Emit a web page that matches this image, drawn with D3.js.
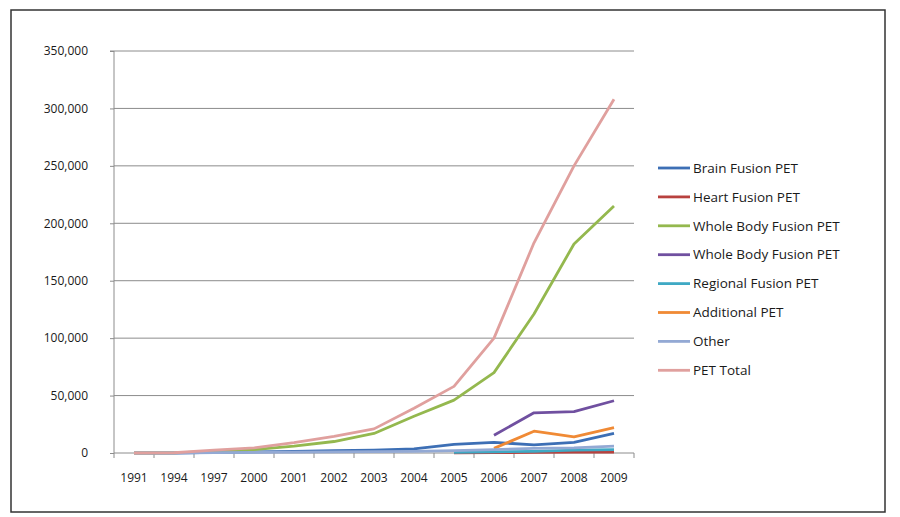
<!DOCTYPE html>
<html>
<head>
<meta charset="utf-8">
<script src="https://cdn.jsdelivr.net/npm/d3@7"></script>
<style>
  body { margin: 0; background: #fff; }
  svg { display: block; font-family: "Open Sans", "Liberation Sans", sans-serif; }
</style>
</head>
<body>
<svg id="chart" width="900" height="517"></svg>
<script>
const years = ["1991","1994","1997","2000","2001","2002","2003","2004","2005","2006","2007","2008","2009"];
const yTicks = [0, 50000, 100000, 150000, 200000, 250000, 300000, 350000];

const seriesNames = ["Brain Fusion PET","Heart Fusion PET","Whole Body Fusion PET","Whole Body Fusion PET","Regional Fusion PET","Additional PET","Other","PET Total"];
const seriesColors = ["#3D6FB5","#B8413E","#94B84E","#7050A0","#3FA9C4","#F08A35","#93A9D4","#E0A09E"];

const brainFusion    = [0, 0, 500, 1000, 1500, 2000, 2500, 3500, 7500, 9300, 7000, 9300, 17000];
const heartFusion    = [null, null, null, null, null, null, null, null, 200, 300, 500, 700, 800];
const wholeBodyA     = [0, 100, 1500, 3000, 6000, 10000, 17000, 32000, 46000, 70000, 121000, 182000, 215000];
const wholeBodyB     = [null, null, null, null, null, null, null, null, null, 15500, 35000, 36000, 45500];
const regionalFusion = [null, null, null, null, null, null, null, null, 500, 1000, 1500, 2500, 3000];
const additionalPET  = [null, null, null, null, null, null, null, null, null, 4000, 19000, 14000, 22000];
const otherPET       = [0, 0, 300, 500, 800, 1000, 1200, 1500, 2000, 3000, 4000, 4500, 6000];
const petTotal       = [0, 200, 2500, 4500, 9000, 14500, 21000, 39000, 58000, 100000, 183000, 250000, 308000];

const seriesValues = [brainFusion, heartFusion, wholeBodyA, wholeBodyB, regionalFusion, additionalPET, otherPET, petTotal];

const svg = d3.select("#chart");
const margin = {left: 114, right: 634, top: 51, bottom: 453};

// outer border
svg.append("rect").attr("x", 11).attr("y", 10).attr("width", 874).attr("height", 502)
  .attr("fill", "none").attr("stroke", "#333").attr("stroke-width", 1.5);

const x = d3.scaleBand().domain(years).range([margin.left, margin.right]);
const y = d3.scaleLinear().domain([0, 350000]).range([margin.bottom, margin.top]);

// gridlines
svg.append("g").selectAll("line").data(yTicks.filter(d => d > 0)).join("line")
  .attr("x1", margin.left).attr("x2", margin.right)
  .attr("y1", d => y(d)).attr("y2", d => y(d))
  .attr("stroke", "#8c8c8c").attr("stroke-width", 1);

// y axis
const yAxis = d3.axisLeft(y).tickValues(yTicks).tickSize(4).tickPadding(22)
  .tickFormat(d3.format(","));
const gy = svg.append("g").attr("transform", `translate(${margin.left},0)`).call(yAxis);
gy.select(".domain").attr("stroke", "#8c8c8c").attr("d", `M-4,${margin.top}H0V${margin.bottom}`);
gy.selectAll(".tick line").attr("stroke", "#8c8c8c");
gy.selectAll(".tick text").attr("font-size", 12).attr("fill", "#1a1a1a")
  .attr("font-family", "'Open Sans', sans-serif");

// x axis
const gx = svg.append("g").attr("transform", `translate(0,${margin.bottom})`);
gx.append("line").attr("x1", margin.left).attr("x2", margin.right).attr("y1", 0).attr("y2", 0)
  .attr("stroke", "#8c8c8c");
const boundaries = years.map(d => x(d)).concat([x(years[years.length-1]) + x.bandwidth()]);
gx.selectAll("line.tk").data(boundaries).join("line").attr("class", "tk")
  .attr("x1", d => d).attr("x2", d => d).attr("y1", 0).attr("y2", 5)
  .attr("stroke", "#8c8c8c");
gx.selectAll("text").data(years).join("text")
  .attr("x", d => x(d) + x.bandwidth() / 2).attr("y", 29)
  .attr("text-anchor", "middle").attr("font-size", 12).attr("fill", "#1a1a1a")
  .text(d => d);

// lines
const line = d3.line()
  .defined(d => d.v !== null)
  .x(d => x(d.year) + x.bandwidth() / 2)
  .y(d => y(d.v));

seriesValues.forEach((vals, i) => {
  const pts = years.map((yr, j) => ({year: yr, v: vals[j]}));
  svg.append("path").datum(pts)
    .attr("fill", "none").attr("stroke", seriesColors[i]).attr("stroke-width", 2.8)
    .attr("stroke-linejoin", "round")
    .attr("d", line);
});

// legend
const lg = svg.append("g");
seriesNames.forEach((name, i) => {
  const yy = 168 + i * 28.9;
  lg.append("line").attr("x1", 658).attr("x2", 690).attr("y1", yy).attr("y2", yy)
    .attr("stroke", seriesColors[i]).attr("stroke-width", 2.8);
  lg.append("text").attr("x", 693).attr("y", yy).attr("dy", "0.35em")
    .attr("font-size", 13.5).attr("fill", "#1a1a1a").text(name);
});
</script>
</body>
</html>
